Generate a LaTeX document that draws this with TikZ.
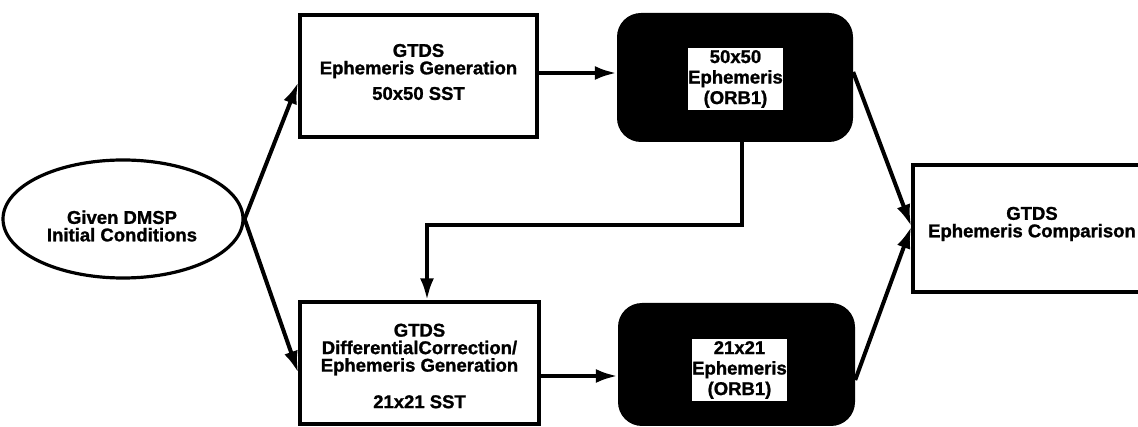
\documentclass[tikz,border=0pt]{standalone}
\usepackage{fontspec}
\setmainfont{Liberation Sans}[BoldFeatures={FakeBold=1.2}]
\usetikzlibrary{arrows.meta,shapes.geometric}
\begin{document}
\begin{tikzpicture}[x=1pt,y=-1pt,
  txt/.style={font=\bfseries\fontsize{18.5}{17.5}\selectfont, align=center, inner sep=0pt},
  box/.style={draw=black, line width=3.4pt, fill=white, inner sep=0pt},
  darkbox/.style={fill=black, rounded corners=24pt, inner sep=0pt},
  inbox/.style={fill=white, inner sep=0pt, minimum width=95pt, minimum height=62pt,
    font=\bfseries\fontsize{18.5}{20.5}\selectfont, align=center},
  arr/.style={line width=4pt, -{Latex[length=22pt,width=14pt]}}
]
\useasboundingbox (0,0) rectangle (1138,427);
% ellipse
\node[draw=black, line width=3.2pt, ellipse, minimum width=240pt, minimum height=118pt, inner sep=0pt] (el) at (123,219) {};
\node[txt] (elt) at (122,226) {Given DMSP\\Initial Conditions};
% top generation box
\node[box, minimum width=237pt, minimum height=122pt] (tb) at (418.5,76) {};
\node[txt] (tbt) at (418.5,72) {GTDS\\Ephemeris Generation\\[8pt]50x50 SST};
% bottom generation box
\node[box, minimum width=239pt, minimum height=122pt] (bb) at (419.5,363) {};
\node[txt] (bbt) at (419.5,366) {GTDS\\DifferentialCorrection/\\Ephemeris Generation\\[19pt]21x21 SST};
% dark ephemeris boxes
\node[darkbox, minimum width=236pt, minimum height=129pt] (tk) at (735,77.5) {};
\node[inbox] (ti) at (735.5,79) {50x50\\Ephemeris\\(ORB1)};
\node[darkbox, minimum width=237pt, minimum height=123pt] (bk) at (736.5,364.5) {};
\node[inbox] (bi) at (739.5,370) {21x21\\Ephemeris\\(ORB1)};
% comparison box
\node[box, minimum width=238pt, minimum height=127pt] (cmp) at (1032,228.5) {};
\node[txt] (cmpt) at (1032,224) {GTDS\\Ephemeris Comparison};
% connectors
\draw[arr] (el.east) -- ([yshift=-6pt]tb.west);
\draw[arr] (el.east) -- ([yshift=-10pt]bb.west);
\draw[arr] ([yshift=3pt]tb.east) -- ([yshift=3pt]tb.east -| tk.west);
\draw[arr] ([yshift=-13pt]bb.east) -- ([yshift=-13pt]bb.east -| bk.west);
\coordinate (turn) at (427,225);
\draw[arr] ([xshift=7pt]tk.south) |- (turn) -| ([xshift=7.5pt]bb.north);
\draw[arr] ([yshift=5.5pt]tk.east) -- ([yshift=2pt]cmp.west);
\draw[arr] ([yshift=-15.5pt]bk.east) -- ([yshift=2pt]cmp.west);
\end{tikzpicture}
\end{document}
